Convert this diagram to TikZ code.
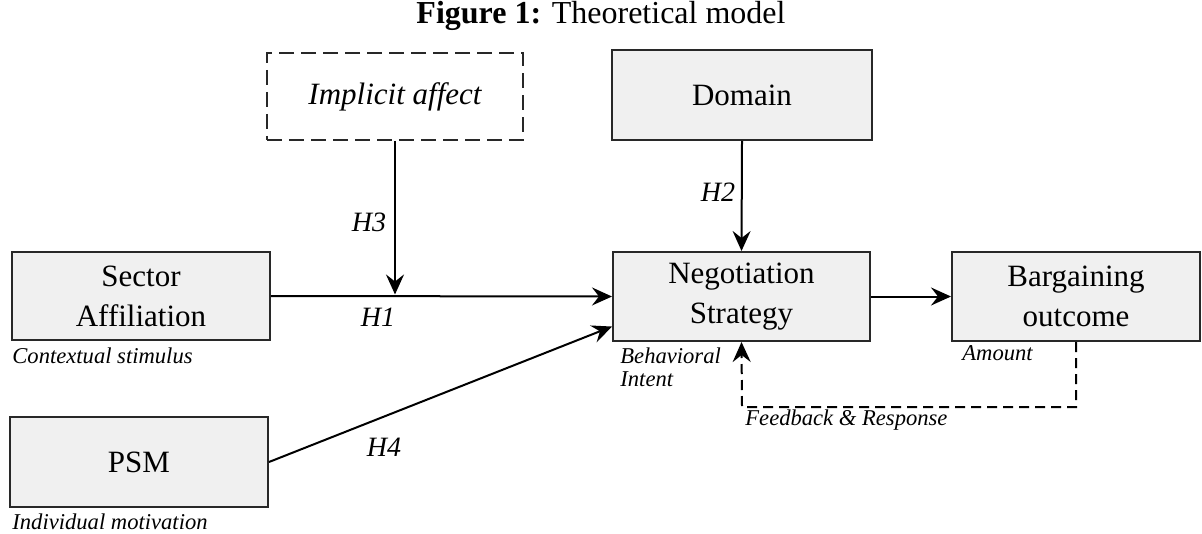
\documentclass[tikz,border=0pt]{standalone}
\usepackage{fontspec}
\setmainfont{Liberation Serif}
\usetikzlibrary{arrows.meta,calc}
\definecolor{boxfill}{RGB}{240,240,240}
\definecolor{boxline}{RGB}{40,40,40}
\begin{document}
\begin{tikzpicture}[x=0.5pt,y=-0.5pt,
  box/.style={draw=boxline, fill=boxfill, line width=1pt, inner sep=0pt, align=center,
    font=\fontsize{15.5}{20}\selectfont},
  dbox/.style={draw=boxline, line width=1pt, dash pattern=on 7.5pt off 3.5pt, inner sep=0pt,
    font=\fontsize{15.5}{20}\selectfont\itshape},
  conn/.style={draw=black, line width=1pt, -{Stealth[length=10pt,width=9pt,inset=3.5pt]}},
  fbconn/.style={conn, dash pattern=on 5pt off 3pt},
  hlab/.style={font=\fontsize{14}{16}\selectfont\itshape, inner sep=0pt},
  note/.style={font=\fontsize{11.3}{11.5}\selectfont\itshape, inner sep=0pt, anchor=west, align=left},
]
\useasboundingbox (0,0) rectangle (1202,534);

\node[font=\fontsize{16}{18}\selectfont] (title) at (601,16) {\textbf{Figure 1:} Theoretical model};

\node[dbox, minimum width=128pt, minimum height=43.5pt] (imp) at (395,96.5) {Implicit affect};
\node[box, minimum width=130pt, minimum height=45pt] (dom) at (742,95) {Domain};
\node[box, minimum width=129pt, minimum height=44pt] (sec) at (141,296) {Sector\\Affiliation};
\node[box, minimum width=129pt, minimum height=45pt] (psm) at (139,462) {PSM};
\node[box, minimum width=128.5pt, minimum height=44.5pt] (neg) at (741.5,296.5) {Negotiation\\Strategy};
\node[box, minimum width=124pt, minimum height=44.5pt] (barg) at (1076,296.5) {Bargaining\\outcome};

\coordinate (j) at (395,294.5);
\coordinate (fbc) at (742,407);

\draw[conn] (sec.east) -- (neg.west);
\draw[conn] (imp.south) -- (j);
\draw[conn] (dom.south) -- (neg.north);
\draw[conn] (psm.east) -- ($(neg.west)!0.66!(neg.south west)$);
\draw[conn] (neg.east) -- (barg.west);
\draw[fbconn] (barg.south) |- (fbc) -- (neg.south);

\node[hlab] (h3) at (369,222) {H3};
\node[hlab] (h2) at (718,192) {H2};
\node[hlab] (h1) at (378,317) {H1};
\node[hlab] (h4) at (384,447) {H4};

\node[note] (ctx) at (12,356) {Contextual stimulus};
\node[note] (ind) at (12,522) {Individual motivation};
\node[note] (beh) at (620,367) {Behavioral\\Intent};
\node[note] (amt) at (962,353) {Amount};
\node[note] (fbl) at (745,420) {Feedback \& Response};
\end{tikzpicture}
\end{document}
